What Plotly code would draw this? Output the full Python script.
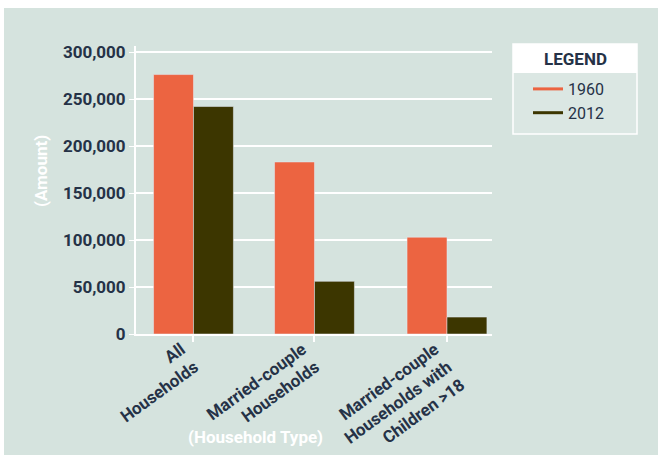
import plotly.graph_objects as go

categories = ["All<br>Households", "Married-couple<br>Households", "Married-couple<br>Households with<br>Children >18"]
values_1960 = [276000, 183000, 103000]
values_2012 = [242000, 56000, 18000]
series_names = ["1960", "2012"]
y_ticks = [0, 50000, 100000, 150000, 200000, 250000, 300000]
y_tick_labels = ["0", "50,000", "100,000", "150,000", "200,000", "250,000", "300,000"]

ORANGE = "#ec6441"
DARK = "#3c3600"
BG = "#d5e3de"
NAVY = "#253247"

OX, OY = 4, 8  # page offset of the figure
W, H = 658 - OX, 455 - OY
L, R, T, B = 136 - OX, 492 - OX, 46 - OY, 334 - OY
pw, ph = R - L, B - T


def px_x(x):
    return (x - OX - L) / pw


def px_y(y):
    return (B - (y - OY)) / ph


# category slot positions (last group sits a little further right in the original)
group_gap = [0, 0, 0.095]
xpos = [i + g for i, g in enumerate(group_gap)]
bw = 0.33

fig = go.Figure()
fig.add_trace(go.Bar(x=xpos, y=values_1960, name=series_names[0], marker_color=ORANGE,
                     width=bw, offset=-bw, showlegend=False))
fig.add_trace(go.Bar(x=xpos, y=values_2012, name=series_names[1], marker_color=DARK,
                     width=bw, offset=0, showlegend=False))
fig.add_trace(go.Scatter(x=[None], y=[None], mode="lines", name=series_names[0],
                         line=dict(color=ORANGE, width=3)))
fig.add_trace(go.Scatter(x=[None], y=[None], mode="lines", name=series_names[1],
                         line=dict(color=DARK, width=3)))

shapes = [
    dict(type="rect", xref="paper", yref="paper", x0=px_x(513), x1=px_x(637), y0=px_y(134), y1=px_y(44),
         fillcolor="#dbe7e3", line=dict(color="white", width=1.5)),
    dict(type="rect", xref="paper", yref="paper", x0=px_x(513), x1=px_x(637), y0=px_y(73), y1=px_y(44),
         fillcolor="white", line=dict(width=0)),
]

annotations = [
    dict(text="LEGEND", xref="paper", yref="paper", x=px_x(575), y=px_y(59), showarrow=False,
         font=dict(family="Roboto", size=17, color=NAVY, weight="bold"), xanchor="center", yanchor="middle"),
    dict(text="(Amount)", xref="paper", yref="paper", x=px_x(41), y=px_y(171), showarrow=False, textangle=-90,
         font=dict(family="Roboto", size=17, color="white", weight="bold"), xanchor="center", yanchor="middle"),
    dict(text="(Household Type)", xref="paper", yref="paper", x=px_x(255), y=px_y(437), showarrow=False,
         font=dict(family="Roboto", size=17, color="white", weight="bold"), xanchor="center", yanchor="middle"),
]

fig.update_layout(
    width=W, height=H,
    margin=dict(l=L, r=W - R, t=T, b=H - B, pad=0, autoexpand=False),
    paper_bgcolor=BG, plot_bgcolor=BG,
    barmode="overlay",
    shapes=shapes,
    annotations=annotations,
    legend=dict(x=px_x(528), y=px_y(72), xanchor="left", yanchor="top", bgcolor="rgba(0,0,0,0)",
                font=dict(family="Roboto", size=16, color=NAVY), itemwidth=30, tracegroupgap=4),
    xaxis=dict(range=[-0.475, 2.467], tickvals=xpos, ticktext=categories, showgrid=False, zeroline=False,
               showline=True, linecolor="white", linewidth=2,
               ticks="outside", tickcolor="white", ticklen=6, tickwidth=1.5, tickangle=-36, automargin=False,
               ticklabelshift=-12, ticklabelstandoff=-9,
               tickfont=dict(family="Roboto", size=17, color=NAVY, weight="bold"), fixedrange=True),
    yaxis=dict(range=[0, 306400], tickvals=y_ticks, ticktext=y_tick_labels, showgrid=True, gridcolor="white",
               gridwidth=1.5, showline=True, linecolor="white", linewidth=2, ticks="outside", tickcolor="white",
               ticklen=5, zeroline=False, automargin=False,
               tickfont=dict(family="Roboto", size=17, color=NAVY, weight="bold")),
)

fig.write_html("out.html", post_script="document.body.style.margin='8px 0 0 4px';")
